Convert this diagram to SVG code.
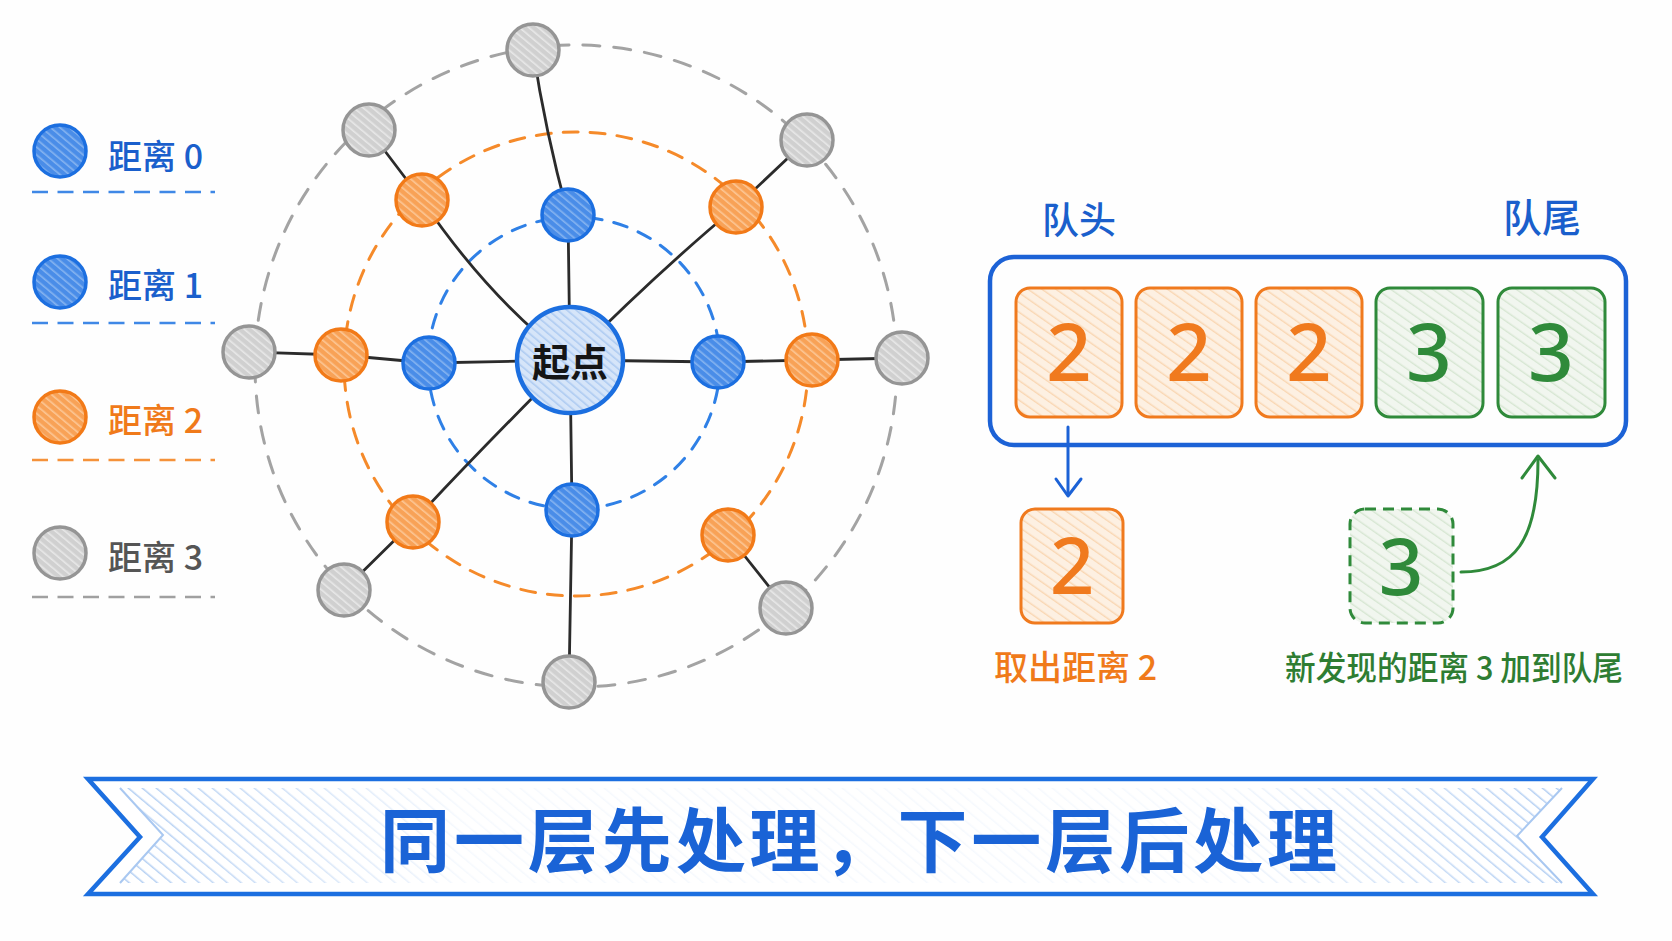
<svg xmlns="http://www.w3.org/2000/svg" width="1672" height="941" viewBox="0 0 1672 941">
<defs>
<style>
.cjk{font-family:"Noto Sans CJK SC","Noto Sans",sans-serif}
.num{font-family:"Noto Sans","Liberation Sans",sans-serif;font-weight:500}
.nb{fill:url(#pBlue);stroke:#1c6fe0;stroke-width:3.5}
.no{fill:url(#pOrange);stroke:#f27a18;stroke-width:3.5}
.ng{fill:url(#pGray);stroke:#959595;stroke-width:3.5}
.ring{fill:none;stroke-width:3;stroke-linecap:round}
.cellO{fill:url(#pCellO);stroke:#f07a1e;stroke-width:3}
.cellG{fill:url(#pCellG);stroke:#2f8a3a;stroke-width:3}
.leg{stroke-width:2.6;stroke-dasharray:16 9.5}
</style>
<pattern id="pBlue" width="6" height="6" patternUnits="userSpaceOnUse" patternTransform="rotate(-50)"><rect width="6" height="6" fill="#4a8de8"/><rect width="1.6" height="6" fill="#86b4f0"/></pattern>
<pattern id="pOrange" width="6" height="6" patternUnits="userSpaceOnUse" patternTransform="rotate(-50)"><rect width="6" height="6" fill="#f8a257"/><rect width="1.6" height="6" fill="#fcc796"/></pattern>
<pattern id="pGray" width="6" height="6" patternUnits="userSpaceOnUse" patternTransform="rotate(-50)"><rect width="6" height="6" fill="#d0d0d0"/><rect width="1.6" height="6" fill="#e8e8e8"/></pattern>
<pattern id="pCenter" width="6" height="6" patternUnits="userSpaceOnUse" patternTransform="rotate(-50)"><rect width="6" height="6" fill="#d6e5f9"/><rect width="1.6" height="6" fill="#aecbf1"/></pattern>
<pattern id="pCellO" width="8" height="8" patternUnits="userSpaceOnUse" patternTransform="rotate(-55)"><rect width="8" height="8" fill="#fdf0e2"/><rect width="1.4" height="8" fill="#f9d6b2"/></pattern>
<pattern id="pCellG" width="8" height="8" patternUnits="userSpaceOnUse" patternTransform="rotate(-55)"><rect width="8" height="8" fill="#f1f6ef"/><rect width="1.4" height="8" fill="#d6e6d2"/></pattern>
<pattern id="pBanner" width="9" height="9" patternUnits="userSpaceOnUse" patternTransform="rotate(-50)"><rect width="1.5" height="9" fill="#9fc2ef"/></pattern>
<linearGradient id="fadeG" x1="88" y1="0" x2="1593" y2="0" gradientUnits="userSpaceOnUse">
<stop offset="0" stop-color="#fff" stop-opacity="1"/>
<stop offset="0.06" stop-color="#fff" stop-opacity="0.85"/>
<stop offset="0.25" stop-color="#fff" stop-opacity="0.12"/>
<stop offset="0.75" stop-color="#fff" stop-opacity="0.12"/>
<stop offset="0.94" stop-color="#fff" stop-opacity="0.85"/>
<stop offset="1" stop-color="#fff" stop-opacity="1"/>
</linearGradient>
<mask id="fadeM"><rect x="0" y="760" width="1672" height="160" fill="url(#fadeG)"/></mask>
</defs>

<rect width="1672" height="941" fill="#fefefe"/>

<!-- Legend -->
<g id="legend" class="cjk" font-weight="500">
<g id="legend-0">
<circle cx="60" cy="151" r="26" class="nb"/>
<text x="108" y="169" font-size="34" fill="#1a5fcc">距离 0</text>
<line x1="32" y1="192" x2="215" y2="192" stroke="#3f88e6" class="leg"/>
</g>
<g id="legend-1">
<circle cx="60" cy="282" r="26" class="nb"/>
<text x="108" y="298" font-size="34" fill="#1a5fcc">距离 1</text>
<line x1="32" y1="323" x2="215" y2="323" stroke="#3f88e6" class="leg"/>
</g>
<g id="legend-2">
<circle cx="60" cy="417" r="26" class="no"/>
<text x="108" y="433" font-size="34" fill="#f07a1a">距离 2</text>
<line x1="32" y1="460" x2="215" y2="460" stroke="#f5923a" class="leg"/>
</g>
<g id="legend-3">
<circle cx="60" cy="553" r="26" class="ng"/>
<text x="108" y="570" font-size="34" fill="#555">距离 3</text>
<line x1="32" y1="597" x2="215" y2="597" stroke="#a0a0a0" class="leg"/>
</g>
</g>

<!-- Rings -->
<g id="rings">
<circle cx="576" cy="366" r="321" class="ring" stroke="#a3a3a3" stroke-dasharray="17 14"/>
<circle cx="576" cy="364" r="232" class="ring" stroke="#f58a2a" stroke-dasharray="15 12"/>
<circle cx="574" cy="363" r="146" class="ring" stroke="#2f80e6" stroke-dasharray="14 12"/>
</g>

<!-- Connectors -->
<g id="connectors" stroke="#2b2b2b" stroke-width="2.8" fill="none" stroke-linecap="round">
<path d="M570 360 L568 215"/>
<path d="M570 360 L429 363"/>
<path d="M570 360 L718 362"/>
<path d="M570 360 L572 510"/>
<path d="M570 360 Q490 300 422 200"/>
<path d="M570 360 Q660 270 736 207"/>
<path d="M570 360 Q480 450 413 522"/>
<path d="M568 215 Q545 130 533 50"/>
<path d="M422 200 L369 130"/>
<path d="M736 207 L807 140"/>
<path d="M249 352 L341 355"/>
<path d="M341 355 L429 363"/>
<path d="M718 362 L812 360"/>
<path d="M812 360 L902 358"/>
<path d="M413 522 L344 590"/>
<path d="M572 510 L569 682"/>
<path d="M728 535 L786 608"/>
</g>

<!-- Graph nodes -->
<g id="n-g-t"><circle cx="533" cy="50" r="26" class="ng"/></g>
<g id="n-g-ul"><circle cx="369" cy="130" r="26" class="ng"/></g>
<g id="n-g-ur"><circle cx="807" cy="140" r="26" class="ng"/></g>
<g id="n-g-l"><circle cx="249" cy="352" r="26" class="ng"/></g>
<g id="n-g-r"><circle cx="902" cy="358" r="26" class="ng"/></g>
<g id="n-g-ll"><circle cx="344" cy="590" r="26" class="ng"/></g>
<g id="n-g-lr"><circle cx="786" cy="608" r="26" class="ng"/></g>
<g id="n-g-b"><circle cx="569" cy="682" r="26" class="ng"/></g>

<g id="n-o-ul"><circle cx="422" cy="200" r="26" class="no"/></g>
<g id="n-o-ur"><circle cx="736" cy="207" r="26" class="no"/></g>
<g id="n-o-l"><circle cx="341" cy="355" r="26" class="no"/></g>
<g id="n-o-r"><circle cx="812" cy="360" r="26" class="no"/></g>
<g id="n-o-ll"><circle cx="413" cy="522" r="26" class="no"/></g>
<g id="n-o-lr"><circle cx="728" cy="535" r="26" class="no"/></g>

<g id="n-b-t"><circle cx="568" cy="215" r="26" class="nb"/></g>
<g id="n-b-l"><circle cx="429" cy="363" r="26" class="nb"/></g>
<g id="n-b-r"><circle cx="718" cy="362" r="26" class="nb"/></g>
<g id="n-b-b"><circle cx="572" cy="510" r="26" class="nb"/></g>

<g id="n-start">
<circle cx="570" cy="360" r="53" fill="url(#pCenter)" stroke="#1c6fe0" stroke-width="4.5"/>
<text x="570" y="376" font-size="38" font-weight="700" text-anchor="middle" fill="#151515" class="cjk">起点</text>
</g>

<!-- Queue -->
<g id="queue">
<text x="1042" y="234" font-size="37" font-weight="500" fill="#1a5fcc" class="cjk">队头</text>
<text x="1503" y="232" font-size="39" font-weight="500" fill="#1a5fcc" class="cjk">队尾</text>
<rect x="990" y="257" width="636" height="188" rx="24" fill="none" stroke="#1c62d6" stroke-width="4.5"/>
</g>
<g id="cell-1"><rect x="1016" y="288" width="106" height="129" rx="14" class="cellO"/><text x="1069" y="381" font-size="80" text-anchor="middle" fill="#f07a1e" class="num">2</text></g>
<g id="cell-2"><rect x="1136" y="288" width="106" height="129" rx="14" class="cellO"/><text x="1189" y="381" font-size="80" text-anchor="middle" fill="#f07a1e" class="num">2</text></g>
<g id="cell-3"><rect x="1256" y="288" width="106" height="129" rx="14" class="cellO"/><text x="1309" y="381" font-size="80" text-anchor="middle" fill="#f07a1e" class="num">2</text></g>
<g id="cell-4"><rect x="1376" y="288" width="107" height="129" rx="14" class="cellG"/><text x="1429" y="381" font-size="80" text-anchor="middle" fill="#2f8a3a" class="num">3</text></g>
<g id="cell-5"><rect x="1498" y="288" width="107" height="129" rx="14" class="cellG"/><text x="1551" y="381" font-size="80" text-anchor="middle" fill="#2f8a3a" class="num">3</text></g>

<g id="out-2">
<rect x="1021" y="509" width="102" height="114" rx="14" class="cellO"/>
<text x="1072" y="594" font-size="78" text-anchor="middle" fill="#f07a1e" class="num">2</text>
<text x="994" y="680" font-size="34" font-weight="500" fill="#f07a1a" class="cjk">取出距离 2</text>
</g>
<g id="new-3">
<rect x="1350" y="509" width="103" height="114" rx="15" fill="url(#pCellG)" stroke="#2f8a3a" stroke-width="3" stroke-dasharray="11 7"/>
<text x="1401" y="595" font-size="78" text-anchor="middle" fill="#2f8a3a" class="num">3</text>
<text x="1285" y="680" font-size="33" font-weight="500" fill="#2e7d32" class="cjk" textLength="338" lengthAdjust="spacingAndGlyphs">新发现的距离 3 加到队尾</text>
</g>

<g id="queue-arrows" fill="none" stroke-width="3" stroke-linecap="round" stroke-linejoin="round">
<path d="M1068 427 L1068 494" stroke="#1c62d6"/>
<path d="M1056 479 L1068 496 L1081 479" stroke="#1c62d6"/>
<path d="M1461 572 C1515 572 1538 540 1538 460" stroke="#2f8a3a"/>
<path d="M1522 478 L1538 456 L1555 478" stroke="#2f8a3a"/>
</g>

<!-- Banner -->
<g id="banner">
<polygon points="88,779 1593,779 1542,837 1593,894 88,894 140,837" fill="#fff" stroke="#1c6fe0" stroke-width="4.5" stroke-linejoin="miter"/>
<g mask="url(#fadeM)">
<polygon points="120,788 1562,788 1517,836 1562,883 120,883 163,835" fill="url(#pBanner)" opacity="0.85"/>
</g>
<polyline points="120,788 163,835 120,883" fill="none" stroke="#a9c8f1" stroke-width="2"/>
<polyline points="1562,788 1517,836 1562,883" fill="none" stroke="#a9c8f1" stroke-width="2"/>
<text x="380" y="867" font-size="70" font-weight="700" fill="#1a63d6" class="cjk" textLength="957" lengthAdjust="spacing">同一层先处理，下一层后处理</text>
</g>
</svg>
